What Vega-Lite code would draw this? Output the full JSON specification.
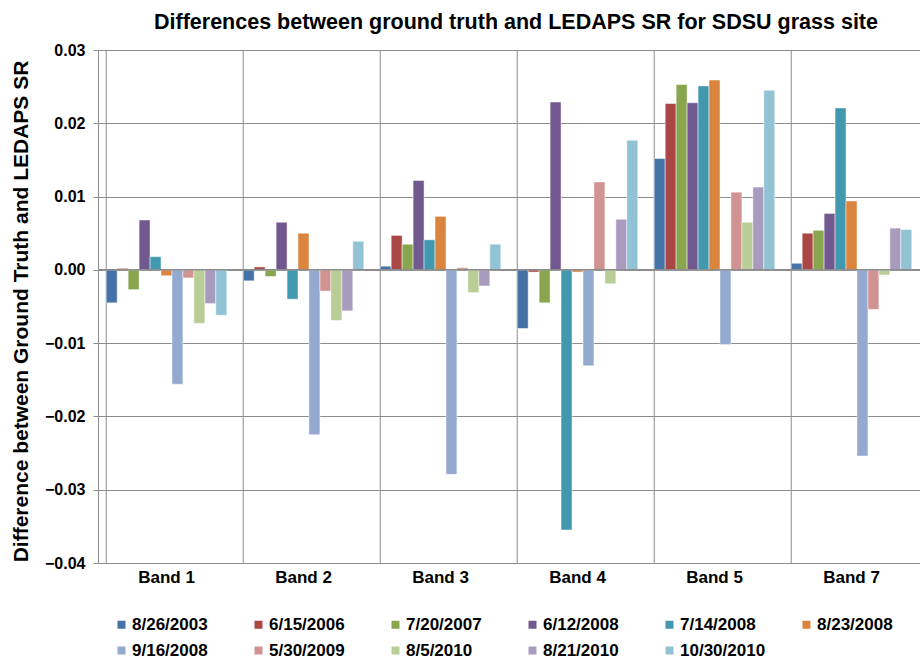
{
  "$schema": "https://vega.github.io/schema/vega-lite/v6.json",
  "autosize": {"type": "none"},
  "padding": {"left": 98, "top": 50, "right": 0, "bottom": 96},
  "width": 822,
  "height": 513,
  "background": "white",
  "config": {"view": {"stroke": null}, "font": "Liberation Sans"},
  "title": {
    "text": "Differences between ground truth and LEDAPS SR for SDSU grass site",
    "fontSize": 21.5, "fontWeight": "bold", "font": "Liberation Sans", "color": "black",
    "anchor": "middle", "offset": 9, "dx": 7
  },
  "datasets": {
    "bars": [
      {"band": "Band 1", "date": "8/26/2003", "value": -0.0045},
      {"band": "Band 1", "date": "6/15/2006", "value": 0.0002},
      {"band": "Band 1", "date": "7/20/2007", "value": -0.0027},
      {"band": "Band 1", "date": "6/12/2008", "value": 0.0068},
      {"band": "Band 1", "date": "7/14/2008", "value": 0.0018},
      {"band": "Band 1", "date": "8/23/2008", "value": -0.0008},
      {"band": "Band 1", "date": "9/16/2008", "value": -0.0156},
      {"band": "Band 1", "date": "5/30/2009", "value": -0.0011},
      {"band": "Band 1", "date": "8/5/2010", "value": -0.0073},
      {"band": "Band 1", "date": "8/21/2010", "value": -0.0046},
      {"band": "Band 1", "date": "10/30/2010", "value": -0.0062},
      {"band": "Band 2", "date": "8/26/2003", "value": -0.0015},
      {"band": "Band 2", "date": "6/15/2006", "value": 0.0004},
      {"band": "Band 2", "date": "7/20/2007", "value": -0.0009},
      {"band": "Band 2", "date": "6/12/2008", "value": 0.0065},
      {"band": "Band 2", "date": "7/14/2008", "value": -0.004},
      {"band": "Band 2", "date": "8/23/2008", "value": 0.005},
      {"band": "Band 2", "date": "9/16/2008", "value": -0.0225},
      {"band": "Band 2", "date": "5/30/2009", "value": -0.0029},
      {"band": "Band 2", "date": "8/5/2010", "value": -0.0069},
      {"band": "Band 2", "date": "8/21/2010", "value": -0.0056},
      {"band": "Band 2", "date": "10/30/2010", "value": 0.0039},
      {"band": "Band 3", "date": "8/26/2003", "value": 0.0005},
      {"band": "Band 3", "date": "6/15/2006", "value": 0.0047},
      {"band": "Band 3", "date": "7/20/2007", "value": 0.0035},
      {"band": "Band 3", "date": "6/12/2008", "value": 0.0122},
      {"band": "Band 3", "date": "7/14/2008", "value": 0.0041},
      {"band": "Band 3", "date": "8/23/2008", "value": 0.0073},
      {"band": "Band 3", "date": "9/16/2008", "value": -0.0279},
      {"band": "Band 3", "date": "5/30/2009", "value": 0.0003},
      {"band": "Band 3", "date": "8/5/2010", "value": -0.0031},
      {"band": "Band 3", "date": "8/21/2010", "value": -0.0022},
      {"band": "Band 3", "date": "10/30/2010", "value": 0.0035},
      {"band": "Band 4", "date": "8/26/2003", "value": -0.008},
      {"band": "Band 4", "date": "6/15/2006", "value": -0.0003},
      {"band": "Band 4", "date": "7/20/2007", "value": -0.0045},
      {"band": "Band 4", "date": "6/12/2008", "value": 0.0229},
      {"band": "Band 4", "date": "7/14/2008", "value": -0.0355},
      {"band": "Band 4", "date": "8/23/2008", "value": -0.0003},
      {"band": "Band 4", "date": "9/16/2008", "value": -0.0131},
      {"band": "Band 4", "date": "5/30/2009", "value": 0.012},
      {"band": "Band 4", "date": "8/5/2010", "value": -0.0019},
      {"band": "Band 4", "date": "8/21/2010", "value": 0.0069},
      {"band": "Band 4", "date": "10/30/2010", "value": 0.0177},
      {"band": "Band 5", "date": "8/26/2003", "value": 0.0152},
      {"band": "Band 5", "date": "6/15/2006", "value": 0.0227},
      {"band": "Band 5", "date": "7/20/2007", "value": 0.0253},
      {"band": "Band 5", "date": "6/12/2008", "value": 0.0228},
      {"band": "Band 5", "date": "7/14/2008", "value": 0.0251},
      {"band": "Band 5", "date": "8/23/2008", "value": 0.0259},
      {"band": "Band 5", "date": "9/16/2008", "value": -0.0102},
      {"band": "Band 5", "date": "5/30/2009", "value": 0.0106},
      {"band": "Band 5", "date": "8/5/2010", "value": 0.0065},
      {"band": "Band 5", "date": "8/21/2010", "value": 0.0113},
      {"band": "Band 5", "date": "10/30/2010", "value": 0.0245},
      {"band": "Band 7", "date": "8/26/2003", "value": 0.0009},
      {"band": "Band 7", "date": "6/15/2006", "value": 0.005},
      {"band": "Band 7", "date": "7/20/2007", "value": 0.0054},
      {"band": "Band 7", "date": "6/12/2008", "value": 0.0077},
      {"band": "Band 7", "date": "7/14/2008", "value": 0.0221},
      {"band": "Band 7", "date": "8/23/2008", "value": 0.0094},
      {"band": "Band 7", "date": "9/16/2008", "value": -0.0254},
      {"band": "Band 7", "date": "5/30/2009", "value": -0.0054},
      {"band": "Band 7", "date": "8/5/2010", "value": -0.0007},
      {"band": "Band 7", "date": "8/21/2010", "value": 0.0057},
      {"band": "Band 7", "date": "10/30/2010", "value": 0.0055}
    ],
    "bands": [
      {"band": "Band 1"}, {"band": "Band 2"}, {"band": "Band 3"},
      {"band": "Band 4"}, {"band": "Band 5"}, {"band": "Band 7"}
    ]
  },
  "layer": [
    {
      "data": {"name": "bands"},
      "mark": {"type": "rule", "color": "#8c8c8c", "strokeWidth": 1},
      "encoding": {
        "x": {"field": "band", "type": "nominal", "bandPosition": 0,
              "scale": {"paddingInner": 0.12, "paddingOuter": 0.06},
              "axis": {"title": null, "labelAngle": 0, "labelFontSize": 17, "labelFontWeight": "bold",
                       "labelColor": "black", "labelPadding": 6, "ticks": false, "domain": false,
                       "grid": false, "labelFont": "Liberation Sans", "labelOverlap": false,
                       "labelBound": false, "labelLimit": 0}}
      }
    },
    {
      "data": {"name": "bars"},
      "mark": {"type": "bar", "stroke": "white", "strokeWidth": 0.6, "strokeOpacity": 0.8},
      "encoding": {
        "x": {"field": "band", "type": "nominal",
              "scale": {"paddingInner": 0.12, "paddingOuter": 0.06}},
        "xOffset": {"field": "date", "type": "nominal",
                    "sort": ["8/26/2003","6/15/2006","7/20/2007","6/12/2008","7/14/2008","8/23/2008","9/16/2008","5/30/2009","8/5/2010","8/21/2010","10/30/2010"],
                    "scale": {"paddingInner": 0, "paddingOuter": 0}},
        "y": {"field": "value", "type": "quantitative",
              "scale": {"domain": [-0.04, 0.03], "nice": false, "zero": false},
              "axis": {"title": "Difference between Ground Truth and LEDAPS SR",
                       "values": [-0.04, -0.03, -0.02, -0.01, 0, 0.01, 0.02, 0.03],
                       "format": ".2f", "labelFontSize": 16, "labelFontWeight": "bold", "labelColor": "black",
                       "labelPadding": 8, "ticks": true, "tickSize": 5, "tickColor": "#8c8c8c",
                       "domain": true, "domainColor": "#8c8c8c",
                       "grid": true, "gridColor": "#8c8c8c", "gridWidth": 1, "gridOpacity": 1,
                       "titleFontSize": 21, "titleFontWeight": "bold", "titleColor": "black",
                       "titleX": -77, "titleY": 261, "titleAngle": -90, "titleAlign": "center",
                       "titleBaseline": "middle", "labelFont": "Liberation Sans", "titleFont": "Liberation Sans"}},
        "color": {"field": "date", "type": "nominal",
                  "scale": {"domain": ["8/26/2003","6/15/2006","7/20/2007","6/12/2008","7/14/2008","8/23/2008","9/16/2008","5/30/2009","8/5/2010","8/21/2010","10/30/2010"],
                            "range": ["#4572A7","#AA4643","#89A54E","#71588F","#4198AF","#DB843D","#93A9CF","#D19392","#B9CD96","#A99BBD","#91C3D5"]},
                  "legend": {"title": null, "orient": "none", "legendX": 15, "legendY": 566,
                             "direction": "horizontal", "columns": 6, "gridAlign": "all",
                             "columnPadding": 32, "rowPadding": 8, "symbolType": "square", "symbolSize": 64,
                             "symbolStrokeWidth": 0, "labelFontSize": 17, "labelFontWeight": "bold",
                             "labelColor": "black", "labelOffset": 2, "labelFont": "Liberation Sans"}}
      }
    },
    {
      "data": {"values": [{"z": 0}]},
      "mark": {"type": "rule", "color": "#8c8c8c", "strokeWidth": 1.5},
      "encoding": {"y": {"field": "z", "type": "quantitative"}}
    }
  ]
}
